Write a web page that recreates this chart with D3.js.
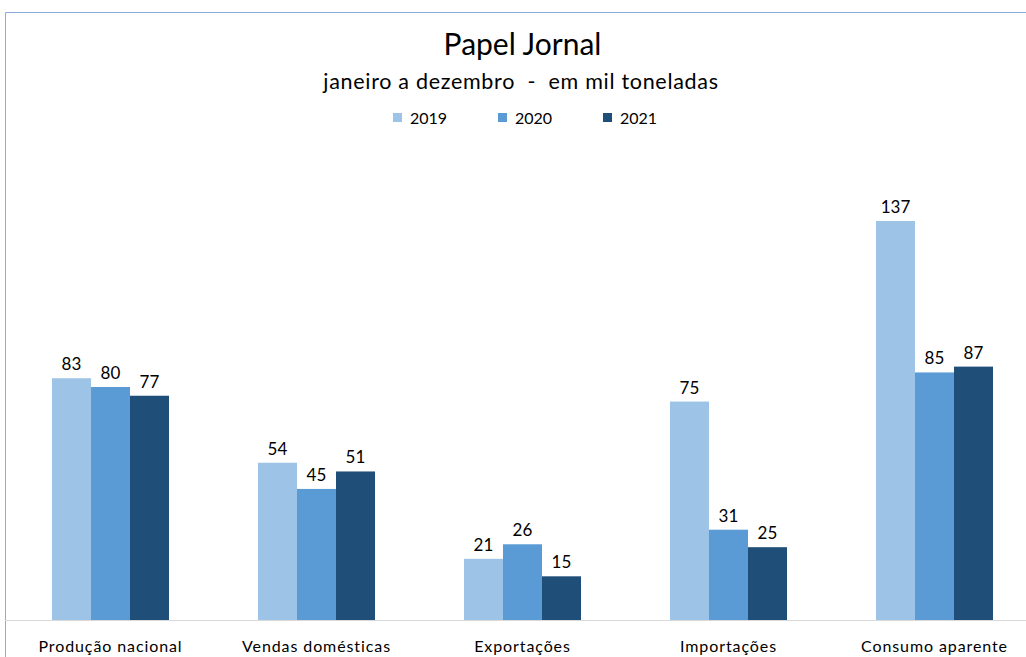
<!DOCTYPE html>
<html><head><meta charset="utf-8">
<script src="https://cdn.jsdelivr.net/npm/d3@7"></script>
<style>body{margin:0;background:#fff;} svg{display:block;font-family:"Lato","Open Sans",sans-serif;} text{white-space:pre;}</style>
</head><body>
<svg id="c" width="1026" height="657"></svg>
<script>
const categories = ["Produção nacional","Vendas domésticas","Exportações","Importações","Consumo aparente"];
const years = ["2019","2020","2021"];
const v2019 = [83,54,21,75,137];
const v2020 = [80,45,26,31,85];
const v2021 = [77,51,15,25,87];
const colors = ["#9DC3E6","#5B9BD5","#1F4E79"];
const series = [v2019,v2020,v2021];

const svg = d3.select("#c");
// frame
svg.append("path").attr("d","M5.5,657 V12.5 H1026").attr("fill","none").attr("stroke","#8FAADC").attr("stroke-width",1);

const x0 = d3.scaleBand().domain(categories).range([7.5,1037.5]).paddingInner(0.432).paddingOuter(0.216);
const x1 = d3.scaleBand().domain(years).range([0,x0.bandwidth()]);
const y = d3.scaleLinear().domain([0,160]).range([620,154]);

const g = svg.append("g");
categories.forEach((c,i)=>{
  const gg = g.append("g").attr("transform",`translate(${x0(c)},0)`);
  years.forEach((yr,j)=>{
    const v = series[j][i];
    gg.append("rect").attr("x",x1(yr)).attr("y",y(v)).attr("width",x1.bandwidth()).attr("height",y(0)-y(v)).attr("fill",colors[j]);
    gg.append("text").attr("x",x1(yr)+x1.bandwidth()/2).attr("y",y(v)-8).attr("text-anchor","middle")
      .attr("font-size",17).attr("fill","#000").text(v);
  });
});
// baseline
svg.append("line").attr("x1",5).attr("x2",1026).attr("y1",620.5).attr("y2",620.5).attr("stroke","#D9D9D9");
// category labels
const xAxis = d3.axisBottom(x0).tickSize(0).tickPadding(0);
const ax = svg.append("g").attr("transform","translate(0,620)").call(xAxis);
ax.select(".domain").remove();
ax.selectAll("text").attr("font-family","Lato, 'Open Sans', sans-serif").attr("font-size",16).attr("letter-spacing",0.9)
  .attr("fill","#000").attr("dy",null).attr("y",32);

svg.append("text").attr("x",522.5).attr("y",55).attr("text-anchor","middle").attr("font-size",30).attr("fill","#000").text("Papel Jornal");
svg.append("text").attr("x",521).attr("y",89).attr("text-anchor","middle").attr("font-size",21.5).attr("letter-spacing",0.7).attr("fill","#000").text("janeiro a dezembro  -  em mil toneladas");

const legX = [393,498,603];
years.forEach((yr,j)=>{
  svg.append("rect").attr("x",legX[j]).attr("y",113).attr("width",9).attr("height",9).attr("fill",colors[j]);
  svg.append("text").attr("x",legX[j]+17).attr("y",124).attr("font-size",16).attr("fill","#000").text(yr);
});
</script>
</body></html>
